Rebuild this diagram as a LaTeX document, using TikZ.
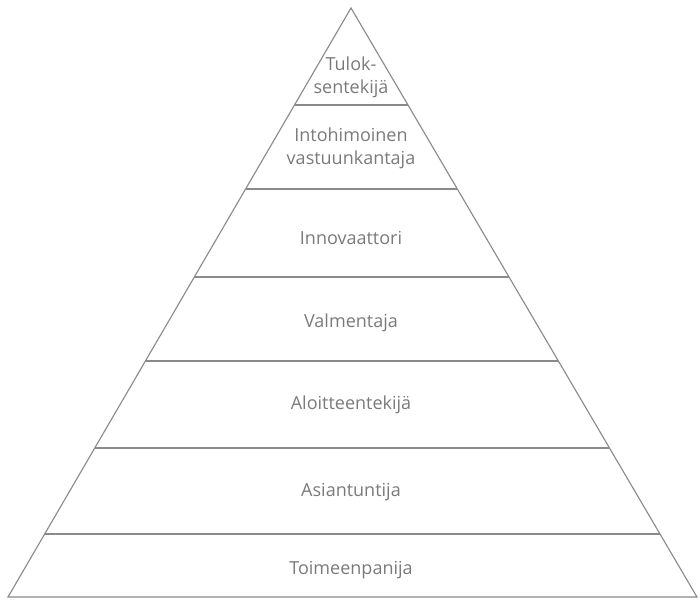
\documentclass[tikz,border=0pt]{standalone}
\usepackage{fontspec}
\setmainfont{Open Sans}
\usetikzlibrary{calc}
\definecolor{linegray}{HTML}{8A8A8A}
\definecolor{textgray}{HTML}{7A7A7A}
\tikzset{
  level/.style={text=textgray, font=\fontsize{12.8}{16.5}\selectfont, align=center, inner sep=1pt},
  divider/.style={draw=linegray, line width=0.8pt}
}
\begin{document}
\begin{tikzpicture}[x=0.025cm, y=-0.025cm]
\useasboundingbox (0,0) rectangle (700,602);
\coordinate (apex) at (351,8);
\coordinate (bl) at (8,597);
\coordinate (br) at (697,597);

% outline of the pyramid
\draw[divider, line join=miter] (apex) -- (bl) -- (br) -- cycle;

% dividing lines between the levels
\foreach \y in {105,189,277,361,448,534} {
  \draw[divider] ($(apex)!{(\y-8)/589}!(bl)$) -- ($(apex)!{(\y-8)/589}!(br)$);
}

\node[level] (tulos) at (351,77) {Tulok-\\sentekijä};
\node[level] (intohimo) at (351,148) {Intohimoinen\\vastuunkantaja};
\node[level] (innovaattori) at (351,238) {Innovaattori};
\node[level] (valmentaja) at (351,323) {Valmentaja};
\node[level] (aloite) at (351,405) {Aloitteentekijä};
\node[level] (asiantuntija) at (351,492) {Asiantuntija};
\node[level] (toimeen) at (351,570) {Toimeenpanija};
\end{tikzpicture}
\end{document}
